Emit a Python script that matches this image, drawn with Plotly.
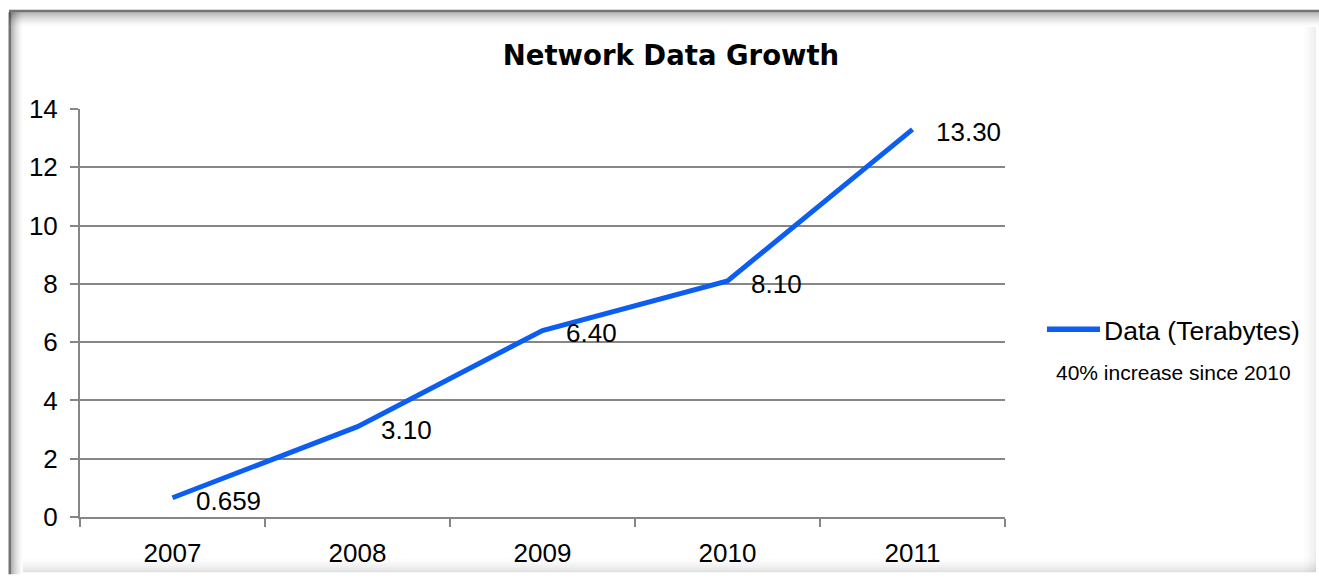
import plotly.graph_objects as go

# Chart data
years = ["2007", "2008", "2009", "2010", "2011"]
terabytes = [0.659, 3.10, 6.40, 8.10, 13.30]
series_name = "Data (Terabytes)"
note_text = "40% increase since 2010"
title_text = "Network Data Growth"

W, H = 1319, 580
ML, MR, MT, MB = 80, 314, 109, 58
PW, PH = W - ML - MR, H - MT - MB

LINE_BLUE = "#0b5ef0"
GRID = "#868686"
FONT = "Liberation Sans, Arial, sans-serif"


def px(x):
    """Pixel x -> paper x."""
    return (x - ML) / PW


def py(y):
    """Pixel y -> paper y."""
    return (H - MB - y) / PH


def fmt(v):
    return f"{v:.3f}" if v < 1 else f"{v:.2f}"


fig = go.Figure()
fig.add_trace(go.Scatter(
    x=years, y=terabytes, mode="lines", name=series_name,
    line=dict(color=LINE_BLUE, width=5),
    showlegend=False, hoverinfo="x+y",
))

annotations = []
# value labels; category positions are given by index on the category axis
for i, v in enumerate(terabytes):
    annotations.append(dict(
        x=i, y=v, xref="x", yref="y", text=fmt(v), showarrow=False,
        xanchor="left", yanchor="middle", xshift=21, yshift=-3,
        font=dict(family=FONT, size=26, color="#000"),
    ))

# Legend entry and note
shapes = [dict(type="line", xref="paper", yref="paper",
               x0=px(1047), x1=px(1100), y0=py(332), y1=py(332),
               line=dict(color=LINE_BLUE, width=5.5), layer="above")]
annotations.append(dict(
    x=px(1102), y=py(334), xref="paper", yref="paper", text=series_name,
    showarrow=False, xanchor="left", yanchor="middle",
    font=dict(family=FONT, size=26.5, color="#000"),
))
annotations.append(dict(
    x=px(1173), y=py(376), xref="paper", yref="paper", text=note_text,
    showarrow=False, xanchor="center", yanchor="middle",
    font=dict(family=FONT, size=21, color="#000"),
))

# Frame with soft inner shading
def band(x0, x1, y0, y1, alpha):
    return dict(type="rect", xref="paper", yref="paper",
                x0=px(x0), x1=px(x1), y0=py(y0), y1=py(y1),
                fillcolor=f"rgba(0,0,0,{alpha:.3f})", line=dict(width=0),
                layer="above")

# top edge
shapes.append(band(9, W, 8.5, 11, 0.55))
for i in range(15):
    shapes.append(band(9, W, 11 + i, 12 + i, 0.30 * (1 - i / 15) ** 1.6))
# left edge
shapes.append(band(8.5, 11, 11, H, 0.55))
for i in range(12):
    shapes.append(band(11 + i, 12 + i, 11, H, 0.30 * (1 - i / 12) ** 1.6))
# right edge
for i in range(14):
    shapes.append(band(W - 17 + i, W - 16 + i, 26, H - 2, 0.07 * ((i + 1) / 14) ** 1.5))
# bottom edge
for i in range(15):
    shapes.append(band(23, W - 3, H - 17 + i, H - 16 + i, 0.12 * ((i + 1) / 15) ** 1.5))

fig.update_layout(
    width=W, height=H,
    margin=dict(l=ML, r=MR, t=MT, b=MB),
    paper_bgcolor="white", plot_bgcolor="white",
    title=dict(text=f"<b>{title_text}</b>", x=671 / W, xanchor="center",
               y=1 - 55 / H, yanchor="middle", xref="container", yref="container",
               font=dict(family="DejaVu Sans, sans-serif", size=27.5, color="#000")),
    xaxis=dict(type="category", range=[-0.5, 4.5], tickson="boundaries",
               ticks="outside", ticklen=8, tickwidth=2, tickcolor=GRID,
               showline=True, linecolor=GRID, linewidth=2, showgrid=False,
               ticklabelstandoff=12,
               tickfont=dict(family=FONT, size=26, color="#000")),
    yaxis=dict(range=[0, 14], dtick=2, ticks="outside", ticklen=8, tickwidth=2,
               tickcolor=GRID, showline=True, linecolor=GRID, linewidth=2,
               showgrid=True, gridcolor=GRID, gridwidth=1.5, zeroline=False,
               ticklabelstandoff=7,
               tickfont=dict(family=FONT, size=26, color="#000")),
    annotations=annotations, shapes=shapes, showlegend=False,
)

fig.write_html("out.html")
